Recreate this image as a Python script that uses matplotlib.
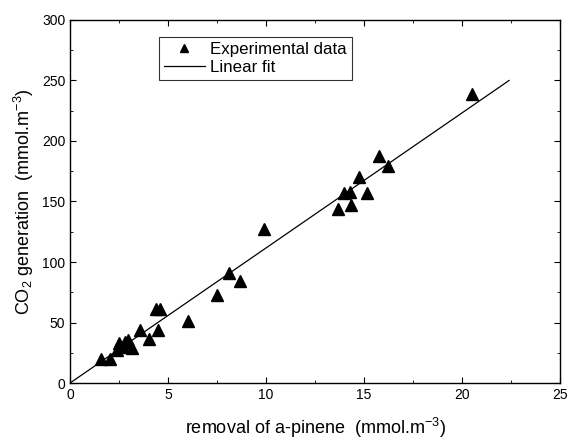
import matplotlib.pyplot as plt
import numpy as np

plt.rcParams['font.family'] = 'Liberation Sans'
plt.rcParams['mathtext.fontset'] = 'custom'
plt.rcParams['mathtext.rm'] = 'Liberation Sans'
plt.rcParams['mathtext.it'] = 'Liberation Sans'

# experimental data (removal of a-pinene vs CO2 generation)
removal = [1.6, 2.05, 2.38, 2.5, 2.69, 2.8, 2.98, 3.15, 3.57, 4.05, 4.37, 4.61, 4.5,
           6.03, 7.49, 8.1, 8.69, 9.89, 13.67, 14.0, 14.26, 14.32, 14.72, 15.13,
           15.74, 16.24, 20.52]
co2 = [20, 20, 27, 33, 30, 34, 35.5, 29, 44, 36, 61, 61, 44,
       51, 73, 91, 84, 127, 144, 157, 158, 147, 170, 157,
       188, 179, 239]

# linear fit line
fit_x = [0, 22.4]
fit_y = [0, 250]

fig = plt.figure(figsize=(5.67, 4.43), dpi=100)
ax = fig.add_axes([0.1235, 0.1354, 0.8642, 0.8195])

ax.plot(removal, co2, '^', color='black', markersize=8, label='Experimental data')
ax.plot(fit_x, fit_y, '-', color='black', linewidth=0.9, label='Linear fit')

ax.set_xlim(0, 25)
ax.set_ylim(0, 300)
ax.set_xticks(np.arange(0, 26, 5))
ax.set_yticks(np.arange(0, 301, 50))
ax.set_xticks(np.arange(2.5, 25, 5), minor=True)
ax.set_yticks(np.arange(25, 300, 50), minor=True)
ax.tick_params(which='both', direction='in', top=True, right=True, labelsize=10)
ax.tick_params(which='major', length=4)
ax.tick_params(which='minor', length=2.5)
for s in ax.spines.values():
    s.set_linewidth(1.0)

ax.set_xlabel('removal of a-pinene  (mmol.m$^{-3}$)', fontsize=13, labelpad=10)
ax.set_ylabel('CO$_2$ generation  (mmol.m$^{-3}$)', fontsize=13, labelpad=4)

leg = ax.legend(loc='upper left', bbox_to_anchor=(0.1816, 0.953), fontsize=12.2,
                frameon=True, fancybox=False, edgecolor='black',
                handlelength=2.4, borderpad=0.3, labelspacing=0.15,
                handletextpad=0.3, borderaxespad=0, markerscale=0.75)
leg.get_frame().set_linewidth(0.8)

fig.savefig('out.png', dpi=100)
